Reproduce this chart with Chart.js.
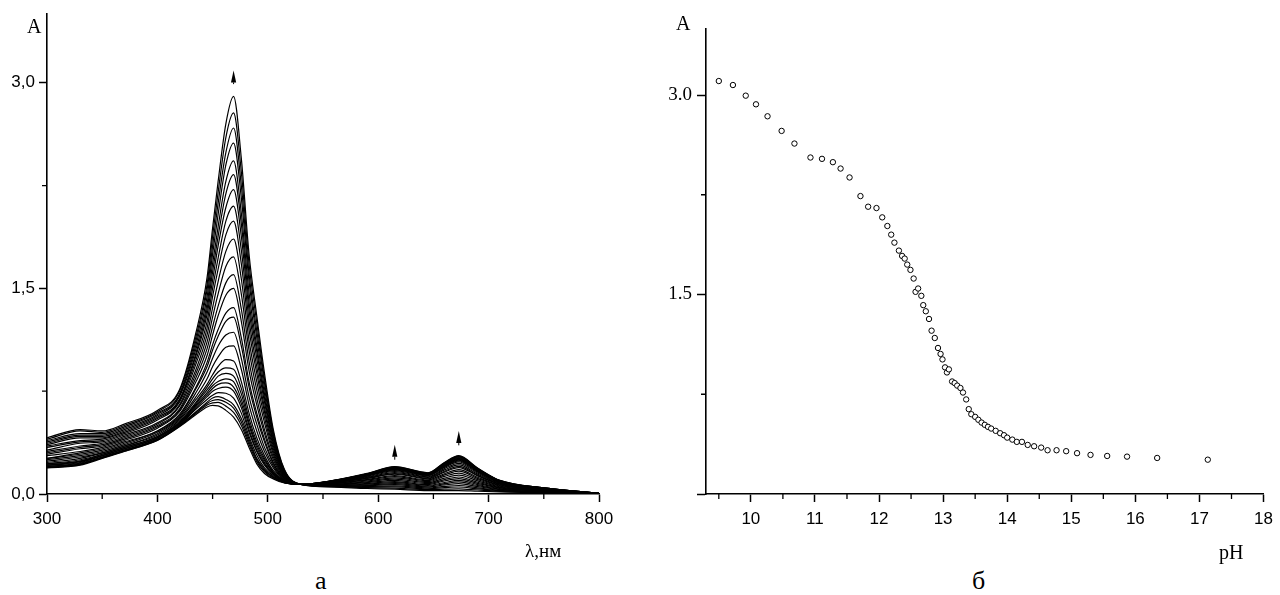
<!DOCTYPE html>
<html>
<head>
<meta charset="utf-8">
<script src="https://cdn.jsdelivr.net/npm/chart.js@4.4.1/dist/chart.umd.min.js"></script>
<style>
  html, body { margin: 0; padding: 0; background: #fff; }
  body { width: 1280px; height: 595px; position: relative; overflow: hidden; }
  canvas { position: absolute; top: 0; }
  .lbl { position: absolute; font-family: "Liberation Serif", "Times New Roman", serif; color: #000; line-height: 1; white-space: nowrap; }
</style>
</head>
<body>
<canvas id="spectra" width="630" height="545" style="left:0"></canvas>
<canvas id="titration" width="640" height="545" style="left:640px"></canvas>

<div class="lbl" style="left:27px;top:16px;font-size:20px">A</div>
<div class="lbl" style="left:525px;top:541px;font-size:19px">λ,нм</div>
<div class="lbl" style="left:315px;top:568px;font-size:26px">а</div>
<div class="lbl" style="left:676px;top:13px;font-size:20px">A</div>
<div class="lbl" style="left:1219px;top:542px;font-size:20px">pH</div>
<div class="lbl" style="left:972px;top:568px;font-size:26px">б</div>

<script>
// ---- left: absorption spectra ----
// wavelengths (nm) at which every spectrum was read
const wavelengths = [300, 330, 350, 370, 400, 420, 435, 445, 450, 455, 462, 469, 476, 483, 490,
                     497, 505, 515, 530, 560, 590, 615, 645, 660, 673, 690, 710, 750, 800];

// absorbance of each spectrum at the wavelengths above (highest band first)
const spectra = [
  [0.41,0.47,0.46,0.51,0.61,0.76,1.18,1.58,1.94,2.28,2.70,2.90,2.45,1.75,1.30,0.88,0.47,0.18,0.07,0.05,0.04,0.035,0.025,0.025,0.025,0.02,0.015,0.008,0],
  [0.40,0.46,0.45,0.50,0.60,0.75,1.15,1.53,1.88,2.20,2.60,2.78,2.35,1.68,1.25,0.84,0.45,0.175,0.07,0.053,0.046,0.043,0.032,0.035,0.038,0.029,0.019,0.010,0],
  [0.39,0.44,0.44,0.49,0.59,0.73,1.12,1.49,1.81,2.12,2.49,2.67,2.25,1.61,1.19,0.81,0.43,0.17,0.07,0.055,0.051,0.052,0.038,0.046,0.051,0.037,0.024,0.012,0.001],
  [0.38,0.43,0.43,0.48,0.58,0.72,1.09,1.44,1.75,2.04,2.40,2.56,2.16,1.55,1.14,0.77,0.42,0.165,0.07,0.057,0.056,0.059,0.044,0.055,0.062,0.045,0.027,0.013,0.001],
  [0.37,0.42,0.42,0.47,0.57,0.71,1.06,1.39,1.68,1.95,2.28,2.43,2.05,1.47,1.08,0.73,0.40,0.16,0.07,0.06,0.062,0.068,0.051,0.066,0.076,0.054,0.032,0.015,0.001],
  [0.36,0.41,0.41,0.46,0.56,0.69,1.03,1.35,1.62,1.88,2.19,2.33,1.97,1.40,1.04,0.70,0.38,0.155,0.07,0.062,0.067,0.075,0.057,0.075,0.088,0.062,0.036,0.017,0.001],
  [0.35,0.39,0.40,0.45,0.55,0.68,1.01,1.31,1.56,1.81,2.09,2.22,1.88,1.34,0.99,0.67,0.37,0.15,0.07,0.065,0.072,0.083,0.063,0.084,0.099,0.069,0.040,0.019,0.001],
  [0.34,0.38,0.39,0.44,0.54,0.67,0.98,1.26,1.50,1.72,1.99,2.10,1.78,1.27,0.93,0.63,0.35,0.145,0.07,0.067,0.077,0.091,0.069,0.095,0.112,0.078,0.044,0.021,0.002],
  [0.32,0.37,0.38,0.43,0.52,0.65,0.95,1.21,1.44,1.64,1.89,1.99,1.68,1.20,0.88,0.60,0.33,0.14,0.07,0.07,0.083,0.099,0.076,0.105,0.124,0.086,0.048,0.022,0.002],
  [0.31,0.35,0.37,0.42,0.51,0.64,0.91,1.16,1.36,1.55,1.77,1.86,1.57,1.12,0.82,0.56,0.31,0.135,0.07,0.072,0.089,0.108,0.083,0.116,0.138,0.096,0.053,0.025,0.002],
  [0.30,0.34,0.36,0.41,0.50,0.62,0.88,1.11,1.29,1.46,1.66,1.73,1.46,1.05,0.76,0.52,0.29,0.13,0.07,0.075,0.095,0.118,0.09,0.128,0.153,0.105,0.058,0.027,0.003],
  [0.29,0.33,0.35,0.40,0.49,0.61,0.85,1.06,1.22,1.37,1.54,1.60,1.35,0.97,0.70,0.47,0.27,0.125,0.07,0.078,0.101,0.127,0.097,0.139,0.167,0.114,0.062,0.029,0.003],
  [0.28,0.31,0.34,0.39,0.48,0.60,0.82,1.01,1.16,1.30,1.45,1.50,1.26,0.90,0.65,0.44,0.25,0.12,0.07,0.08,0.106,0.134,0.103,0.148,0.178,0.122,0.066,0.030,0.003],
  [0.26,0.30,0.33,0.38,0.46,0.58,0.78,0.96,1.09,1.20,1.32,1.36,1.14,0.82,0.59,0.40,0.23,0.115,0.07,0.083,0.113,0.144,0.111,0.160,0.193,0.132,0.071,0.032,0.003],
  [0.26,0.29,0.32,0.37,0.46,0.57,0.77,0.93,1.05,1.15,1.26,1.29,1.08,0.78,0.56,0.38,0.22,0.11,0.07,0.085,0.116,0.149,0.115,0.166,0.201,0.137,0.074,0.034,0.003],
  [0.25,0.28,0.31,0.36,0.45,0.56,0.74,0.89,0.99,1.08,1.16,1.18,0.99,0.71,0.51,0.34,0.205,0.105,0.07,0.087,0.121,0.156,0.121,0.176,0.212,0.145,0.078,0.035,0.004],
  [0.24,0.27,0.30,0.35,0.44,0.55,0.71,0.84,0.93,1.00,1.07,1.08,0.91,0.65,0.46,0.31,0.19,0.10,0.07,0.089,0.126,0.164,0.126,0.185,0.224,0.153,0.081,0.037,0.004],
  [0.23,0.26,0.30,0.35,0.43,0.54,0.69,0.80,0.87,0.93,0.98,0.97,0.82,0.59,0.41,0.28,0.17,0.098,0.07,0.091,0.131,0.171,0.132,0.194,0.235,0.160,0.085,0.039,0.004],
  [0.22,0.25,0.29,0.34,0.42,0.53,0.67,0.78,0.84,0.89,0.92,0.91,0.77,0.55,0.38,0.26,0.16,0.095,0.07,0.093,0.134,0.175,0.136,0.199,0.242,0.165,0.087,0.039,0.004],
  [0.22,0.24,0.29,0.34,0.42,0.52,0.66,0.76,0.81,0.86,0.88,0.86,0.73,0.52,0.36,0.245,0.157,0.093,0.07,0.094,0.136,0.179,0.138,0.203,0.247,0.168,0.089,0.040,0.004],
  [0.21,0.24,0.28,0.33,0.41,0.52,0.65,0.74,0.79,0.82,0.84,0.82,0.69,0.50,0.34,0.23,0.15,0.091,0.07,0.095,0.138,0.182,0.141,0.207,0.252,0.171,0.091,0.041,0.004],
  [0.21,0.235,0.28,0.33,0.41,0.515,0.64,0.725,0.77,0.80,0.81,0.78,0.66,0.47,0.32,0.22,0.144,0.09,0.07,0.095,0.14,0.184,0.143,0.21,0.256,0.174,0.092,0.042,0.005],
  [0.21,0.23,0.28,0.33,0.41,0.51,0.63,0.71,0.75,0.77,0.78,0.75,0.63,0.45,0.31,0.21,0.14,0.088,0.07,0.096,0.141,0.187,0.145,0.214,0.26,0.176,0.093,0.042,0.005],
  [0.20,0.225,0.27,0.32,0.40,0.505,0.62,0.69,0.72,0.74,0.735,0.70,0.59,0.42,0.285,0.19,0.132,0.086,0.07,0.097,0.143,0.19,0.147,0.218,0.265,0.18,0.095,0.043,0.005],
  [0.20,0.22,0.27,0.32,0.40,0.50,0.60,0.67,0.70,0.71,0.69,0.65,0.55,0.40,0.26,0.18,0.124,0.084,0.07,0.098,0.146,0.193,0.15,0.222,0.27,0.183,0.097,0.044,0.005],
  [0.195,0.217,0.265,0.316,0.396,0.498,0.597,0.661,0.682,0.689,0.669,0.626,0.525,0.38,0.25,0.17,0.12,0.083,0.07,0.099,0.147,0.195,0.151,0.224,0.273,0.185,0.098,0.044,0.005],
  [0.193,0.214,0.263,0.313,0.393,0.494,0.589,0.649,0.665,0.668,0.641,0.595,0.50,0.361,0.236,0.161,0.115,0.082,0.07,0.099,0.148,0.198,0.153,0.227,0.276,0.187,0.099,0.044,0.005],
  [0.19,0.21,0.26,0.31,0.39,0.49,0.58,0.635,0.646,0.643,0.61,0.56,0.47,0.34,0.22,0.15,0.11,0.08,0.07,0.10,0.15,0.20,0.155,0.23,0.28,0.19,0.10,0.045,0.005]
];

const specXMajor = [300, 400, 500, 600, 700, 800];
const specXMinor = [350, 450, 550, 650, 750];
const specYMajor = [0, 1.5, 3.0];
const specYLabels = ['0,0', '1,5', '3,0'];
const specYMinor = [0.75, 2.25];

// little arrows over the bands: wavelength, foot and tip (absorbance units)
const arrowWl = [469, 615, 673];
const arrowFoot = [2.99, 0.25, 0.355];
const arrowTip = [3.09, 0.36, 0.46];

// ---- right: absorbance at the band maximum vs pH ----
const phValues = [9.50, 9.72, 9.92, 10.08, 10.26, 10.48, 10.68, 10.93, 11.11, 11.28, 11.40, 11.54,
  11.71, 11.83, 11.96, 12.05, 12.13, 12.19, 12.24, 12.31, 12.36, 12.40, 12.44, 12.49, 12.54, 12.57,
  12.61, 12.66, 12.69, 12.73, 12.78, 12.82, 12.87, 12.92, 12.96, 12.99, 13.03, 13.06, 13.09, 13.14,
  13.18, 13.22, 13.27, 13.31, 13.36, 13.40, 13.44, 13.50, 13.55, 13.60, 13.65, 13.70, 13.75, 13.82,
  13.89, 13.95, 14.00, 14.08, 14.15, 14.23, 14.32, 14.42, 14.53, 14.63, 14.77, 14.92, 15.09, 15.30,
  15.56, 15.87, 16.34, 17.13];
const absValues = [3.105, 3.075, 2.995, 2.93, 2.84, 2.73, 2.635, 2.53, 2.52, 2.495, 2.447, 2.38,
  2.24, 2.16, 2.15, 2.08, 2.015, 1.95, 1.89, 1.83, 1.79, 1.77, 1.725, 1.685, 1.62, 1.52,
  1.545, 1.49, 1.42, 1.374, 1.316, 1.228, 1.173, 1.098, 1.053, 1.012, 0.952, 0.914, 0.937, 0.846,
  0.834, 0.815, 0.797, 0.763, 0.711, 0.638, 0.60, 0.58, 0.558, 0.537, 0.52, 0.505, 0.492, 0.475,
  0.457, 0.442, 0.424, 0.409, 0.392, 0.392, 0.369, 0.359, 0.349, 0.329, 0.329, 0.322, 0.307, 0.294,
  0.286, 0.281, 0.271, 0.258];

const phXMajor = [10, 11, 12, 13, 14, 15, 16, 17, 18];
const phXMinor = [9.5, 10.5, 11.5, 12.5, 13.5, 14.5, 15.5, 16.5, 17.5];
const phYMajor = [0, 1.5, 3.0];
const phYLabels = ['', '1.5', '3.0'];
const phYMinor = [0.75, 2.25];

const SANS = '"Liberation Sans", Arial, sans-serif';
const SERIF = '"Liberation Serif", "Times New Roman", serif';

Chart.defaults.font.family = SANS;
Chart.defaults.color = '#000';

// short unlabeled ticks between the major ones
const minorTicks = {
    id: 'minorTicks',
    afterDraw(chart, args, opts) {
        const ctx = chart.ctx;
        const xs = chart.scales.x, ys = chart.scales.y;
        ctx.save();
        ctx.strokeStyle = '#000';
        ctx.lineWidth = 1.3;
        ctx.beginPath();
        opts.x.forEach(v => {
            const px = xs.getPixelForValue(v);
            ctx.moveTo(px, xs.top);
            ctx.lineTo(px, xs.top + opts.len);
        });
        opts.y.forEach(v => {
            const py = ys.getPixelForValue(v);
            ctx.moveTo(ys.right, py);
            ctx.lineTo(ys.right - opts.len, py);
        });
        ctx.stroke();
        ctx.restore();
    }
};

const bandArrows = {
    id: 'bandArrows',
    afterDatasetsDraw(chart) {
        const ctx = chart.ctx;
        const xs = chart.scales.x, ys = chart.scales.y;
        ctx.save();
        ctx.fillStyle = '#000';
        ctx.strokeStyle = '#000';
        ctx.lineWidth = 1;
        for (let i = 0; i < arrowWl.length; i++) {
            const px = xs.getPixelForValue(arrowWl[i]);
            const tip = ys.getPixelForValue(arrowTip[i]);
            const foot = ys.getPixelForValue(arrowFoot[i]);
            const head = Math.min(12, foot - tip);
            ctx.beginPath();
            ctx.moveTo(px, tip);
            ctx.lineTo(px - 2.6, tip + head);
            ctx.lineTo(px + 2.6, tip + head);
            ctx.closePath();
            ctx.fill();
            ctx.beginPath();
            ctx.moveTo(px, tip + head);
            ctx.lineTo(px, foot);
            ctx.stroke();
        }
        ctx.restore();
    }
};

function axis(min, max, major, labels, font, pad, tickLen, fitFn) {
    return {
        type: 'linear',
        min: min,
        max: max,
        afterBuildTicks: (scale) => { scale.ticks = major.map(v => ({ value: v })); },
        afterFit: fitFn,
        grid: { drawOnChartArea: false, drawTicks: true, tickLength: tickLen, tickWidth: 1.5, tickColor: '#000' },
        border: { display: true, color: '#000', width: 1.6 },
        ticks: {
            autoSkip: false,
            maxRotation: 0,
            padding: pad,
            color: '#000',
            font: font,
            callback: (value, index) => labels[index]
        }
    };
}

function makeSpectra() {
    const datasets = spectra.map(row => ({
        data: row.map((a, i) => ({ x: wavelengths[i], y: a })),
        borderColor: '#000',
        borderWidth: 1.2,
        pointRadius: 0,
        fill: false,
        cubicInterpolationMode: 'monotone'
    }));
    new Chart(document.getElementById('spectra'), {
        type: 'line',
        data: { datasets: datasets },
        options: {
            responsive: false,
            animation: false,
            devicePixelRatio: 1,
            layout: { autoPadding: false, padding: { top: 12, right: 31, left: 0, bottom: 0 } },
            plugins: {
                legend: { display: false },
                tooltip: { enabled: false },
                minorTicks: { x: specXMinor, y: specYMinor, len: 5 }
            },
            scales: {
                x: axis(300, 800, specXMajor, specXMajor.map(String), { size: 17, family: SANS }, 7, 8,
                    s => { s.height = 51; }),
                y: axis(0, 3.5, specYMajor, specYLabels, { size: 17, family: SANS }, 4, 8,
                    s => { s.width = 47; })
            }
        },
        plugins: [minorTicks, bandArrows]
    });
}

function makeTitration() {
    new Chart(document.getElementById('titration'), {
        type: 'scatter',
        data: {
            datasets: [{
                data: phValues.map((p, i) => ({ x: p, y: absValues[i] })),
                pointStyle: 'circle',
                pointRadius: 2.7,
                pointBorderWidth: 1,
                pointBorderColor: '#000',
                pointBackgroundColor: '#fff',
                showLine: false
            }]
        },
        options: {
            responsive: false,
            animation: false,
            devicePixelRatio: 1,
            layout: { autoPadding: false, padding: { top: 28.5, right: 11, left: 0, bottom: 0 } },
            plugins: {
                legend: { display: false },
                tooltip: { enabled: false },
                minorTicks: { x: phXMinor, y: phYMinor, len: 5 }
            },
            scales: {
                x: axis(9.3, 18, phXMajor, phXMajor.map(String), { size: 17, family: SANS }, 7, 8,
                    s => { s.height = 51; }),
                y: axis(0, 3.5, phYMajor, phYLabels, { size: 19, family: SERIF }, 5, 9,
                    s => { s.width = 66; })
            }
        },
        plugins: [minorTicks]
    });
}

document.addEventListener('DOMContentLoaded', () => {
    makeSpectra();
    makeTitration();
});
</script>
</body>
</html>
